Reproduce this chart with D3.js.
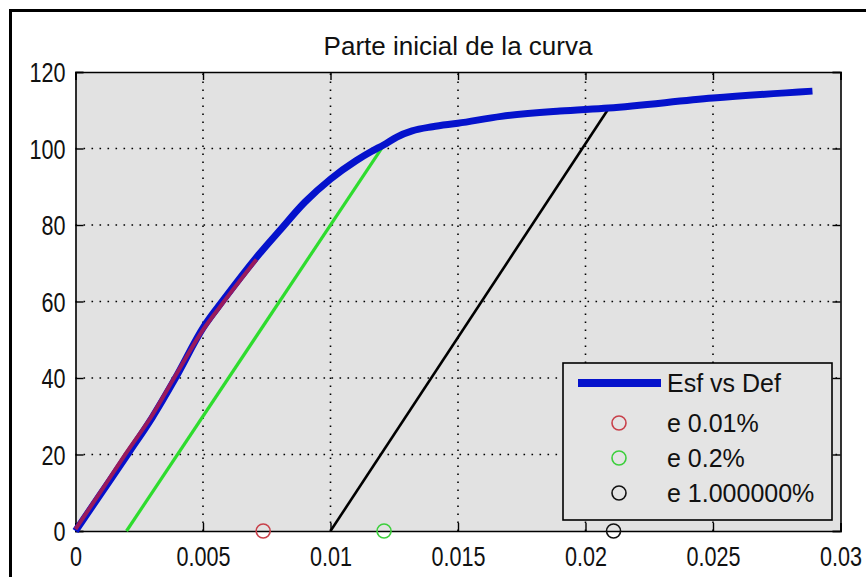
<!DOCTYPE html>
<html>
<head>
<meta charset="utf-8">
<script src="https://cdn.jsdelivr.net/npm/d3@7"></script>
<style>
  html, body { margin: 0; padding: 0; background: #ffffff; }
  svg { display: block; }
  text { font-family: "Liberation Sans", Arial, sans-serif; fill: #111; }
</style>
</head>
<body>
<svg id="chart" width="866" height="577"></svg>
<script>
// Stress–strain curve (strain, stress)
const curveStrain = [0, 0.00098, 0.00208, 0.0030, 0.00392, 0.00502, 0.0058, 0.00718, 0.0080, 0.0090, 0.0100, 0.0110, 0.0116, 0.0121, 0.0126, 0.0132, 0.0140, 0.0150, 0.0167, 0.0190, 0.0209, 0.0250, 0.0289];
const curveStress = [0, 9.6, 20.4, 29.6, 40.0, 53.3, 60.4, 72.2, 78.5, 86.0, 92.0, 96.8, 99.2, 101.0, 103.0, 104.6, 105.7, 106.6, 108.4, 109.8, 110.6, 113.2, 115.0];

// Initial portion traced in red (0.01 % offset)
const redStrain = [0, 0.001, 0.002, 0.003, 0.0039, 0.005, 0.0058, 0.0071];
const redStress = [0.5, 10.4, 20.5, 30.2, 40.4, 52.6, 59.8, 71.0];

// 0.2 % offset line
const greenStrain = [0.002, 0.01207];
const greenStress = [0, 100.7];

// 1 % offset line
const blackStrain = [0.010, 0.0209];
const blackStress = [0, 110.4];

// Yield markers placed on the strain axis
const markerStrain = [0.00736, 0.0121, 0.0211];
const markerStress = [0, 0, 0];
const markerColors = ["#c8404a", "#3ccf3c", "#111111"];

const legendLabels = ["Esf vs Def", "e 0.01%", "e 0.2%", "e 1.000000%"];
const xTicks = [0, 0.005, 0.01, 0.015, 0.02, 0.025, 0.03];
const xTickLabels = ["0", "0.005", "0.01", "0.015", "0.02", "0.025", "0.03"];
const yTicks = [0, 20, 40, 60, 80, 100, 120];
const titleText = "Parte inicial de la curva";

const svg = d3.select("#chart");
const W = 866, H = 577;
const plot = { left: 75.5, right: 840.5, top: 72, bottom: 531 };
const TICK_FONT = 27, TICK_SX = 0.8;   // tall, condensed tick numerals
const TITLE_FONT = 26, LEGEND_FONT = 25;

// outer figure frame (cropped at right/bottom)
svg.append("rect")
  .attr("x", 10.5).attr("y", 10.5)
  .attr("width", W + 20).attr("height", H + 20)
  .attr("fill", "#ffffff").attr("stroke", "#000").attr("stroke-width", 3);

const x = d3.scaleLinear().domain([0, 0.03]).range([plot.left, plot.right]);
const y = d3.scaleLinear().domain([0, 120]).range([plot.bottom, plot.top]);

// axes background
svg.append("rect")
  .attr("x", plot.left).attr("y", plot.top)
  .attr("width", plot.right - plot.left).attr("height", plot.bottom - plot.top)
  .attr("fill", "#e2e2e2");

// dotted grid
const grid = svg.append("g").attr("stroke", "#000").attr("stroke-width", 1.6)
  .attr("stroke-dasharray", "1.6,6.4");
grid.selectAll("line.gx").data(xTicks.slice(1, -1)).join("line")
  .attr("class", "gx")
  .attr("x1", d => x(d)).attr("x2", d => x(d))
  .attr("y1", plot.bottom).attr("y2", plot.top);
grid.selectAll("line.gy").data(yTicks.slice(1, -1)).join("line")
  .attr("class", "gy")
  .attr("x1", plot.left).attr("x2", plot.right)
  .attr("y1", d => y(d)).attr("y2", d => y(d));

// axes with inward ticks on all four sides
const tickLen = 8;
const axB = svg.append("g").attr("transform", `translate(0,${plot.bottom})`)
  .call(d3.axisBottom(x).tickValues(xTicks).tickSize(-tickLen).tickPadding(tickLen)
    .tickFormat((d, i) => xTickLabels[i]));
const axT = svg.append("g").attr("transform", `translate(0,${plot.top})`)
  .call(d3.axisTop(x).tickValues(xTicks).tickSize(-tickLen).tickFormat(""));
const axL = svg.append("g").attr("transform", `translate(${plot.left},0)`)
  .call(d3.axisLeft(y).tickValues(yTicks).tickSize(-tickLen));
const axR = svg.append("g").attr("transform", `translate(${plot.right},0)`)
  .call(d3.axisRight(y).tickValues(yTicks).tickSize(-tickLen).tickFormat(""));
[axB, axT, axL, axR].forEach(a => {
  a.select(".domain").attr("stroke", "#000").attr("stroke-width", 1.6);
  a.selectAll(".tick line").attr("stroke", "#000").attr("stroke-width", 1.4);
  a.selectAll(".tick text").attr("font-size", TICK_FONT)
    .attr("font-family", "Liberation Sans, Arial, sans-serif").attr("fill", "#111")
    .attr("transform", `scale(${TICK_SX},1)`);
});
axB.selectAll(".tick text").attr("x", 0).attr("y", 16).attr("dy", "0.71em");
axL.selectAll(".tick text").attr("x", -10 / TICK_SX).attr("dy", "0.36em");

const line = d3.line().x(d => x(d[0])).y(d => y(d[1])).curve(d3.curveMonotoneX);
const straight = d3.line().x(d => x(d[0])).y(d => y(d[1]));

// offset lines
svg.append("path").datum(d3.zip(greenStrain, greenStress))
  .attr("d", straight).attr("fill", "none").attr("stroke", "#2edc2e").attr("stroke-width", 3.2);
svg.append("path").datum(d3.zip(blackStrain, blackStress))
  .attr("d", straight).attr("fill", "none").attr("stroke", "#000").attr("stroke-width", 2.6);

// main curve
svg.append("path").datum(d3.zip(curveStrain, curveStress))
  .attr("d", line).attr("fill", "none").attr("stroke", "#0512cc")
  .attr("stroke-width", 7).attr("stroke-linejoin", "round").attr("stroke-linecap", "butt");

// red initial trace
svg.append("path").datum(d3.zip(redStrain, redStress))
  .attr("d", line).attr("fill", "none").attr("stroke", "#9a1a5c")
  .attr("stroke-width", 4).attr("stroke-linejoin", "round");

// yield markers
svg.selectAll("circle.mk").data(d3.zip(markerStrain, markerStress, markerColors)).join("circle")
  .attr("class", "mk")
  .attr("cx", d => x(d[0])).attr("cy", d => y(d[1])).attr("r", 7)
  .attr("fill", "none").attr("stroke", d => d[2]).attr("stroke-width", 1.6);

// title
svg.append("text").attr("x", (plot.left + plot.right) / 2).attr("y", 55)
  .attr("text-anchor", "middle").attr("font-size", TITLE_FONT).text(titleText);

// legend
const lg = { x: 563, y: 363, w: 269, h: 157 };
svg.append("rect").attr("x", lg.x).attr("y", lg.y).attr("width", lg.w).attr("height", lg.h)
  .attr("fill", "#e4e4e4").attr("stroke", "#000").attr("stroke-width", 1.6);
const rowY = [383, 423, 458, 493];
svg.append("line").attr("x1", 578).attr("x2", 661).attr("y1", rowY[0]).attr("y2", rowY[0])
  .attr("stroke", "#0512cc").attr("stroke-width", 8);
svg.selectAll("circle.lgm").data(markerColors).join("circle")
  .attr("class", "lgm")
  .attr("cx", 619).attr("cy", (d, i) => rowY[i + 1]).attr("r", 7)
  .attr("fill", "none").attr("stroke", d => d).attr("stroke-width", 1.6);
svg.selectAll("text.lgt").data(legendLabels).join("text")
  .attr("class", "lgt")
  .attr("x", 667).attr("y", (d, i) => rowY[i]).attr("dy", "0.36em")
  .attr("font-size", LEGEND_FONT).text(d => d);
</script>
</body>
</html>
